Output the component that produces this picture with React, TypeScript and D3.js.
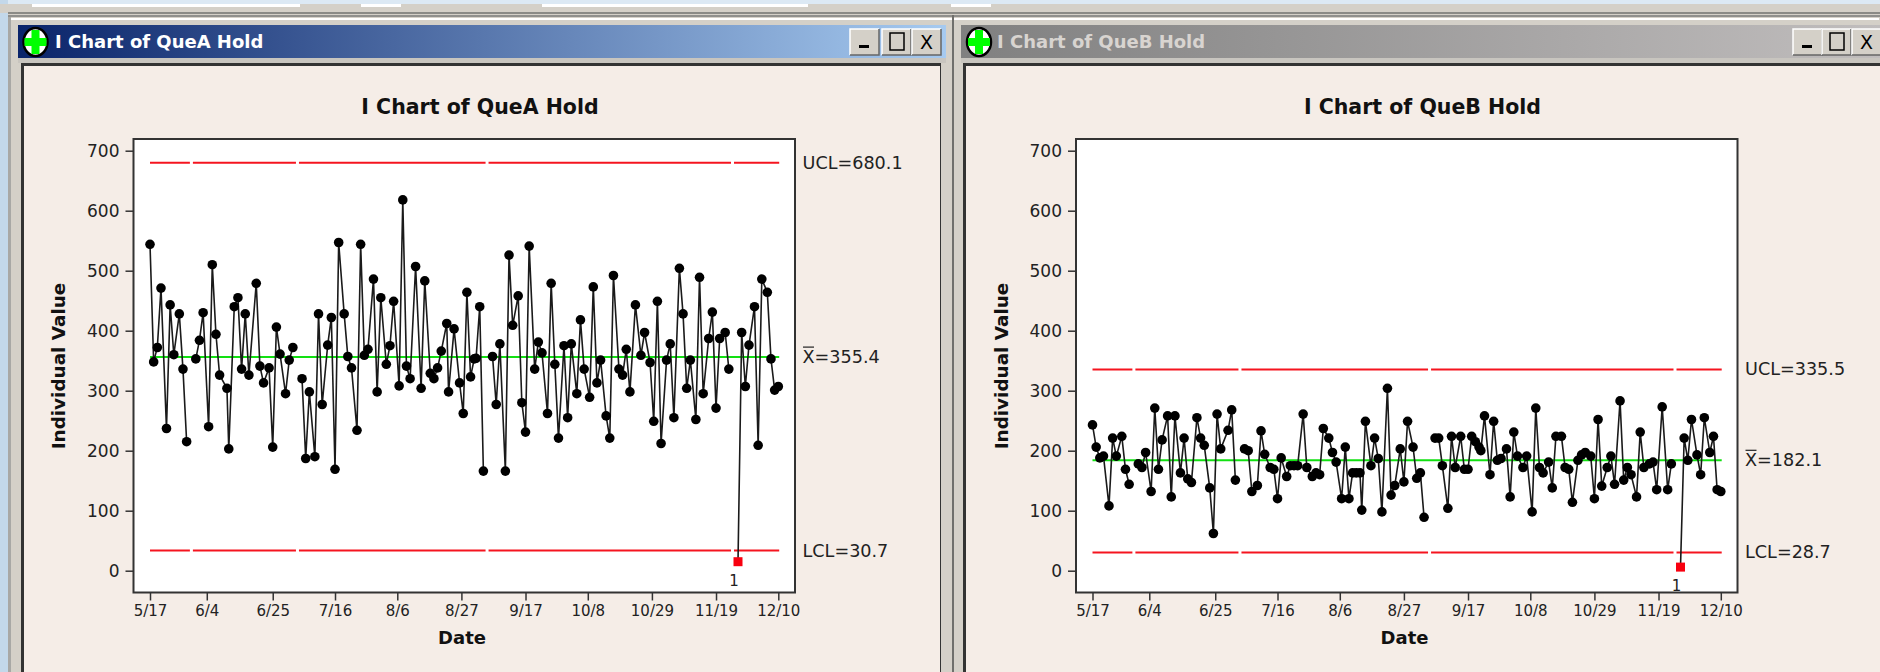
import React, { useEffect, useRef } from 'react';
import * as d3 from 'd3';

// x positions are plot slots; the software leaves a wider step at week ends and a gap between stages
const slotsA = [0,2,4,6,9,11,13,16,18,20,25,27,29,32,34,36,38,42,43,46,48,50,52,54,58,60,62,65,67,69,71,74,76,78,83,85,87,90,92,94,97,99,101,103,106,108,110,113,115,117,119,122,124,126,129,131,133,136,138,140,142,145,148,150,153,155,157,159,162,163,166,169,171,173,175,177,178,180,182,187,189,191,194,196,198,201,203,205,207,210,212,214,217,219,221,223,226,228,230,233,235,237,240,242,244,246,249,251,253,256,258,260,262,265,268,270,273,275,277,279,282,284,286,289,291,293,295,298,300,302,305,307,309,311,314,316,321,323,325,327,330,332,334,337,339,341,343];
const valuesA = [544,348,372,471,237,443,360,428,336,215,353,384,430,240,510,394,326,304,203,440,455,336,428,326,479,341,313,338,206,406,361,295,351,372,320,187,298,190,428,277,376,422,169,547,428,357,338,234,544,359,369,486,298,455,344,375,449,308,618,341,320,507,304,483,329,320,338,366,412,298,403,313,262,464,323,353,354,440,166,357,277,378,166,526,409,458,280,231,541,336,381,363,262,479,344,221,375,255,378,295,418,336,289,473,313,351,258,221,492,336,326,369,298,443,359,397,347,249,449,212,351,378,255,504,428,304,351,252,489,295,387,431,271,387,397,336,15,397,307,376,440,209,486,464,353,301,307];

const slotsB = [0,2,4,6,9,11,13,16,18,20,25,27,29,32,34,36,38,41,43,45,48,50,52,54,57,59,61,64,66,68,70,74,76,78,83,85,87,90,92,94,97,99,101,103,106,108,110,112,115,117,120,122,124,126,129,131,133,136,138,140,142,144,146,147,149,152,154,156,158,161,163,165,168,170,172,175,177,179,181,187,189,191,194,196,198,201,203,205,207,209,211,212,214,217,219,221,223,226,228,230,232,235,237,240,242,244,246,249,251,253,256,258,260,262,265,267,269,272,274,276,278,281,283,285,288,290,292,294,297,299,301,304,306,308,311,314,316,321,323,325,327,330,332,334,337,339,341,343];
const valuesB = [243,206,188,191,108,221,191,224,169,144,178,172,197,132,271,169,218,258,123,258,163,221,153,147,255,221,209,138,62,261,203,234,268,151,203,200,132,142,233,194,172,169,120,188,157,175,175,175,261,172,157,163,160,237,221,197,181,120,206,120,163,163,163,101,249,175,221,187,98,304,126,142,203,148,249,206,154,163,89,221,221,175,104,224,172,224,169,169,224,215,206,200,258,160,249,184,187,203,123,231,191,172,191,98,271,172,163,181,138,224,224,172,169,114,184,193,197,191,120,252,141,172,191,144,283,151,172,160,123,231,172,178,181,135,273,135,178,6,221,184,252,193,160,255,197,224,135,132];

const tickSlots = [0,31,67,101,135,170,205,239,274,309,343];
const tickLabels = ['5/17','6/4','6/25','7/16','8/6','8/27','9/17','10/8','10/29','11/19','12/10'];
const yTicks = [0,100,200,300,400,500,600,700];
const stageBreaks = [22.6,80.5,184,318];
const limitsA = [680.1,356,33.5];
const limitsB = [335.5,184,30.5];
const limitLabelsA = ['UCL=680.1','=355.4','LCL=30.7'];
const limitLabelsB = ['UCL=335.5','=182.1','LCL=28.7'];
const flaggedSlot = 321;

const FONT = '"DejaVu Sans", sans-serif';

function drawChart(g: any, slots: number[], values: number[], limits: number[], labels: string[], title: string) {
  const x = d3.scaleLinear().domain([0, 343]).range([150, 778.3]);
  const y = d3.scaleLinear().domain([0, 700]).range([570.7, 150.7]);

  g.append('rect').attr('x', 133.5).attr('y', 139).attr('width', 661.5).attr('height', 453.5)
    .attr('fill', '#fff').attr('stroke', '#333').attr('stroke-width', 2);

  g.append('text').attr('x', 480).attr('y', 114).attr('text-anchor', 'middle')
    .attr('font-family', FONT).attr('font-weight', 'bold').attr('font-size', 20.5).attr('fill', '#111').text(title);

  const yAxis = d3.axisLeft(y).tickValues(yTicks).tickSize(8).tickPadding(6);
  const yG = g.append('g').attr('transform', 'translate(133.5,0)').call(yAxis);
  const xAxis = d3.axisBottom(x).tickValues(tickSlots).tickSize(8).tickPadding(5)
    .tickFormat((_d: any, i: number) => tickLabels[i]);
  const xG = g.append('g').attr('transform', 'translate(0,592.5)').call(xAxis);
  [yG, xG].forEach(a => {
    a.select('.domain').remove();
    a.selectAll('line').attr('stroke', '#333').attr('stroke-width', 1.5);
    a.selectAll('text').attr('font-family', FONT).attr('fill', '#222');
  });
  yG.selectAll('text').attr('font-size', 17);
  xG.selectAll('text').attr('font-size', 15);

  g.append('text').attr('x', 462).attr('y', 644).attr('text-anchor', 'middle')
    .attr('font-family', FONT).attr('font-weight', 'bold').attr('font-size', 18).attr('fill', '#111').text('Date');
  g.append('text').attr('transform', 'translate(65,366) rotate(-90)').attr('text-anchor', 'middle')
    .attr('font-family', FONT).attr('font-weight', 'bold').attr('font-size', 18.4).attr('fill', '#111').text('Individual Value');

  // limit lines stop at each stage change, the centre line does not
  const stageEdges = [0, ...stageBreaks, 343.5];
  d3.pairs(stageEdges).forEach(([a, b]: number[], i: number) => {
    [limits[0], limits[2]].forEach(v => {
      g.append('line')
        .attr('x1', x(a) + (i ? 1.5 : 0)).attr('x2', x(b) - (i < stageBreaks.length ? 1.5 : 0))
        .attr('y1', y(v)).attr('y2', y(v)).attr('stroke', '#f5141f').attr('stroke-width', 2);
    });
  });
  g.append('line').attr('x1', x(0)).attr('x2', x(343.5)).attr('y1', y(limits[1])).attr('y2', y(limits[1]))
    .attr('stroke', '#12e012').attr('stroke-width', 2);

  // split into runs wherever a stage gap breaks the connecting line
  const points = slots.map((s, i) => ({ s, v: values[i] }));
  const runs: { s: number; v: number }[][] = [];
  points.forEach((p, i) => {
    if (i === 0 || p.s - points[i - 1].s >= 5) runs.push([]);
    runs[runs.length - 1].push(p);
  });
  const line = d3.line<{ s: number; v: number }>().x(d => x(d.s)).y(d => y(d.v));
  g.selectAll('path.run').data(runs).enter().append('path').attr('class', 'run')
    .attr('d', (d: any) => line(d)).attr('fill', 'none').attr('stroke', '#1a1a1a').attr('stroke-width', 1.6);

  g.selectAll('circle.pt').data(points.filter(p => p.s !== flaggedSlot)).enter().append('circle').attr('class', 'pt')
    .attr('cx', (d: any) => x(d.s)).attr('cy', (d: any) => y(d.v)).attr('r', 4.8).attr('fill', '#000');

  const flagged = points.find(p => p.s === flaggedSlot)!;
  g.append('rect').attr('x', x(flagged.s) - 4.5).attr('y', y(flagged.v) - 4.5).attr('width', 9).attr('height', 9).attr('fill', '#f8000f');
  g.append('text').attr('x', x(flagged.s) - 4).attr('y', y(flagged.v) + 24).attr('text-anchor', 'middle')
    .attr('font-family', FONT).attr('font-size', 15).attr('fill', '#222').text('1');

  labels.forEach((lab, i) => {
    const labelY = y(limits[i]) + 6;
    const isMean = i === 1;
    g.append('text').attr('x', 802.5).attr('y', labelY).attr('font-family', FONT).attr('font-size', 17.6).attr('fill', '#222')
      .text(isMean ? 'X' + lab : lab);
    if (isMean) g.append('line').attr('x1', 803).attr('x2', 814).attr('y1', labelY - 16).attr('y2', labelY - 16).attr('stroke', '#222').attr('stroke-width', 1.2);
  });
}

function drawWindowBar(svg: any, id: string, x0: number, x1: number, stops: string[], title: string, titleFill: string, iconX: number, textX: number, buttons: number[]) {
  const grad = svg.append('defs').append('linearGradient').attr('id', id);
  grad.append('stop').attr('offset', '0%').attr('stop-color', stops[0]);
  grad.append('stop').attr('offset', '100%').attr('stop-color', stops[1]);
  svg.append('rect').attr('x', x0).attr('y', 25).attr('width', x1 - x0).attr('height', 33).attr('fill', `url(#${id})`);

  svg.append('ellipse').attr('cx', iconX).attr('cy', 42).attr('rx', 12).attr('ry', 14).attr('fill', '#fff').attr('stroke', '#000').attr('stroke-width', 2.5);
  svg.append('rect').attr('x', iconX - 4).attr('y', 30).attr('width', 8).attr('height', 24).attr('fill', '#0f0');
  svg.append('rect').attr('x', iconX - 11).attr('y', 38).attr('width', 22).attr('height', 8).attr('fill', '#0f0');

  svg.append('text').attr('x', textX).attr('y', 48).attr('font-family', FONT).attr('font-weight', 'bold')
    .attr('font-size', 18).attr('fill', titleFill).text(title);

  buttons.forEach((bx, i) => {
    svg.append('rect').attr('x', bx).attr('y', 29).attr('width', 29).attr('height', 26).attr('fill', '#d4d0c8');
    svg.append('path').attr('d', `M${bx},55 V29 H${bx + 29}`).attr('fill', 'none').attr('stroke', '#fff').attr('stroke-width', 1.5);
    svg.append('path').attr('d', `M${bx},55 H${bx + 29} V29`).attr('fill', 'none').attr('stroke', '#666').attr('stroke-width', 1.5);
    if (i === 0) svg.append('rect').attr('x', bx + 9).attr('y', 45).attr('width', 10).attr('height', 3).attr('fill', '#000');
    if (i === 1) svg.append('rect').attr('x', bx + 8).attr('y', 33).attr('width', 14).attr('height', 17).attr('fill', 'none').attr('stroke', '#000').attr('stroke-width', 1.5);
    if (i === 2) svg.append('text').attr('x', bx + 14.5).attr('y', 49).attr('text-anchor', 'middle').attr('font-family', FONT).attr('font-size', 19).attr('fill', '#000').text('X');
  });
}

export default function App() {
  const ref = useRef<SVGSVGElement | null>(null);

  useEffect(() => {
    const svg = d3.select(ref.current);
    svg.selectAll('*').remove();

    // desktop and toolbar behind the two windows
    const rect = (x: number, y: number, w: number, h: number, fill: string) =>
      svg.append('rect').attr('x', x).attr('y', y).attr('width', w).attr('height', h).attr('fill', fill);
    rect(0, 0, 1880, 672, '#d4d0c8');
    rect(0, 0, 1880, 4, '#dce9f4');
    rect(0, 4, 1880, 9, '#d4d0c8');
    rect(0, 12, 1880, 2, '#8a8a86');
    [[32, 268], [361, 40], [542, 266], [951, 40]].forEach(([x, w]) => rect(x, 4, w, 3, '#fff'));
    rect(0, 0, 8, 672, '#c3d8ea');
    rect(0, 4, 8, 9, '#d4d0c8');

    [[8, 945], [953, 927]].forEach(([x, w]) => {
      rect(x, 15, w, 657, '#d4d0c8');
      rect(x, 15, w, 2, '#8f8f8c');
      rect(x + 1, 18, w - 2, 2, '#fff');
    });
    rect(8, 17, 3, 655, '#a8a8a5');
    rect(952, 15, 2, 657, '#6f6f6c');

    rect(18, 58, 928, 5, '#c8c5bf');
    rect(961, 58, 919, 5, '#c8c5bf');
    rect(21, 63, 920, 609, '#333');
    rect(963, 63, 917, 609, '#333');
    rect(24, 66, 916, 606, '#f5ede7');
    rect(966, 66, 914, 606, '#f5ede7');

    drawWindowBar(svg, 'barA', 18, 946, ['#0a246a', '#a6caf0'], 'I Chart of QueA Hold', '#fff', 35.5, 55, [850, 882, 912]);
    drawWindowBar(svg, 'barB', 961, 1880, ['#808080', '#c0bdbd'], 'I Chart of QueB Hold', '#d8d4d0', 979, 997, [1793, 1822, 1852]);

    drawChart(svg.append('g'), slotsA, valuesA, limitsA, limitLabelsA, 'I Chart of QueA Hold');
    drawChart(svg.append('g').attr('transform', 'translate(942.5,0)'), slotsB, valuesB, limitsB, limitLabelsB, 'I Chart of QueB Hold');
  }, []);

  return <svg ref={ref} width={1880} height={672} style={{ position: 'fixed', left: 0, top: 0, display: 'block' }} />;
}
